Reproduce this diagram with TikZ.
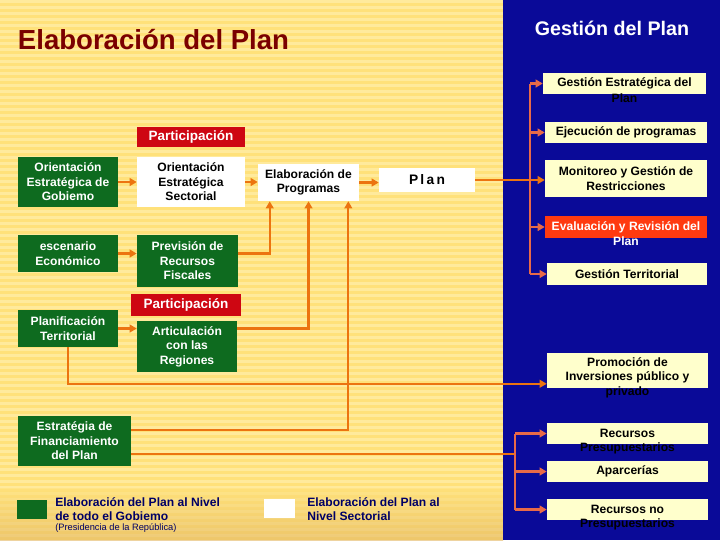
\documentclass[tikz,border=0pt]{standalone}
\usepackage{fontspec}
\setmainfont{Liberation Sans}
\usetikzlibrary{positioning,arrows.meta,calc}
\definecolor{BgYellow}{HTML}{FFE17A}
\definecolor{BgStripe}{HTML}{FFEA9C}
\definecolor{BgBlue}{HTML}{0A0A98}
\definecolor{TitleRed}{HTML}{7A0000}
\definecolor{PlanGreen}{HTML}{0E6B1F}
\definecolor{PartRed}{HTML}{CE0612}
\definecolor{EvalRed}{HTML}{FF3A10}
\definecolor{PaleYellow}{HTML}{FFFFCC}
\definecolor{LinkOrange}{HTML}{EC7410}
\definecolor{LinkSalmon}{HTML}{E86A48}
\definecolor{LegNavy}{HTML}{000066}
\newcommand\boxtxt{\fontsize{8.6}{10.3}\selectfont\bfseries}

\begin{document}
\begin{tikzpicture}[x=0.025cm,y=-0.025cm,
  gbox/.style={fill=PlanGreen, text=white, font=\boxtxt, align=center, inner sep=0pt},
  wbox/.style={fill=white, text=black, font=\boxtxt, align=center, inner sep=0pt},
  pbox/.style={fill=PartRed, text=white, font=\fontsize{9.6}{11}\selectfont\bfseries, inner sep=0pt},
  rbox/.style={fill=PaleYellow, text=black, font=\boxtxt, align=center, inner sep=0pt,
    minimum height=0.525cm},
  over/.style={text=black, font=\boxtxt, inner sep=0pt},
  legtxt/.style={text=LegNavy, font=\boxtxt, align=left, inner sep=0pt, anchor=north west},
  link/.style={LinkOrange, line width=1.6pt, -{Triangle[length=5pt,width=5.5pt]}},
  glink/.style={LinkSalmon, line width=1.5pt, -{Triangle[length=5pt,width=5.5pt]}},
  trunk/.style={LinkSalmon, line width=1.5pt}]
  \useasboundingbox (0,0) rectangle (720,540);

  % Background
  \fill[BgYellow] (0,0) rectangle (503,540);
  \foreach \y in {0,6,...,534} {
    \fill[BgStripe] (0,\y) rectangle (503,\y+3);
  }
  \shade[top color=BgYellow, bottom color=brown!45!BgYellow, opacity=0.6]
    (0,488) rectangle (503,540);
  \fill[BgBlue] (503,0) rectangle (720,540);

  % Titles
  \node[font=\fontsize{19.6}{22}\selectfont\bfseries, text=TitleRed, anchor=west]
    (title) at (13,40) {Elaboración del Plan};
  \node[font=\fontsize{14}{16}\selectfont\bfseries, text=white]
    (gtitle) at (612,28) {Gestión del Plan};

  % Elaboración (left side)
  \node[pbox, minimum width=2.7cm, minimum height=0.5cm] (part1) at (191,137) {Participación};
  \node[gbox, minimum width=2.5cm, minimum height=1.25cm] (oeg) at (68,182)
    {Orientación\\Estratégica de\\Gobiemo};
  \node[wbox, minimum width=2.7cm, minimum height=1.25cm] (oes) at (191,182)
    {Orientación\\Estratégica\\Sectorial};
  \node[wbox, minimum width=2.525cm, minimum height=0.925cm] (ep) at (308.5,182.5)
    {Elaboración de\\Programas};
  \node[wbox, minimum width=2.4cm, minimum height=0.6cm, font=\fontsize{9.8}{11}\selectfont\bfseries]
    (plan) at (427,180) {P\,l\,a\,n};
  \node[gbox, minimum width=2.5cm, minimum height=0.925cm] (esc) at (68,253.5)
    {escenario\\Económico};
  \node[gbox, minimum width=2.525cm, minimum height=1.3cm] (prf) at (187.5,261)
    {Previsión de\\Recursos\\Fiscales};
  \node[pbox, minimum width=2.75cm, minimum height=0.55cm] (part2) at (186,305) {Participación};
  \node[gbox, minimum width=2.5cm, minimum height=0.925cm] (pt) at (68,328.5)
    {Planificación\\Territorial};
  \node[gbox, minimum width=2.5cm, minimum height=1.275cm] (acr) at (187,346.5)
    {Articulación\\con las\\Regiones};
  \node[gbox, minimum width=2.825cm, minimum height=1.25cm] (efp) at (74.5,441)
    {Estratégia de\\Financiamiento\\del Plan};

  % Legend
  \node[fill=PlanGreen, minimum width=0.75cm, minimum height=0.475cm, inner sep=0pt]
    (lg1) at (32,509.5) {};
  \node[legtxt] (lg1t) at (55,497) {Elaboración del Plan al Nivel\\de todo el Gobiemo};
  \node[anchor=north west, inner sep=0pt, text=LegNavy, font=\fontsize{6.6}{7}\selectfont]
    (lg1s) at ([yshift=-1.5pt]lg1t.south west) {(Presidencia de la República)};
  \node[fill=white, minimum width=0.775cm, minimum height=0.475cm, inner sep=0pt]
    (lg2) at (279.5,508.5) {};
  \node[legtxt] (lg2t) at (307,497) {Elaboración del Plan al\\Nivel Sectorial};

  % Gestión (right side)
  \node[rbox, minimum width=4.075cm] (ge) at (624.5,83.5) {Gestión Estratégica del};
  \node[over] at ([yshift=-10.3pt]ge.center) {Plan};
  \node[rbox, minimum width=4.05cm] (ejp) at (626,132.5) {Ejecución de programas};
  \node[rbox, minimum width=4.05cm, minimum height=0.925cm] (mgr) at (626,178.5)
    {Monitoreo y Gestión de\\Restricciones};
  \node[rbox, fill=EvalRed, text=white, minimum width=4.05cm, minimum height=0.55cm]
    (erp) at (626,227) {Evaluación y Revisión del};
  \node[over, text=white] at ([yshift=-10.3pt]erp.center) {Plan};
  \node[rbox, minimum width=4cm, minimum height=0.55cm] (gt) at (627,274) {Gestión Territorial};
  \node[rbox, minimum width=4.025cm, minimum height=0.875cm] (pip) at (627.5,370.5)
    {Promoción de\\Inversiones público y};
  \node[over] at ([yshift=-15.45pt]pip.center) {privado};
  \node[rbox, minimum width=4.025cm] (rp) at (627.5,433.5) {Recursos};
  \node[over] at ([yshift=-10.3pt]rp.center) {Presupuestarios};
  \node[rbox, minimum width=4.025cm] (apa) at (627.5,471.5) {Aparcerías};
  \node[rbox, minimum width=4.025cm] (rnp) at (627.5,509.5) {Recursos no};
  \node[over] at ([yshift=-10.3pt]rnp.center) {Presupuestarios};

  % Connectors, left side
  \draw[link] (oeg) -- (oes);
  \draw[link] (oes.east) -- (oes.east -| ep.west);
  \draw[link] (ep.east) -- (ep.east -| plan.west);
  \draw[link] (esc.east) -- (esc.east -| prf.west);
  \draw[link] (prf.east |- esc.east) -| ($(ep.south west)+(12,0)$);
  \draw[link] (pt.east) -- (pt.east -| acr.west);
  \draw[link] (acr.east |- pt.east) -| (ep.south);
  \draw[link] (pt.south) |- ($(pip.south west)+(0,-4.5)$);
  \draw[link] ($(efp.east)+(0,-11)$) -| ($(ep.south east)+(-11,0)$);
  \coordinate (fin) at ($(efp.east)+(0,13)$);
  \coordinate (tr) at (530,0);
  \coordinate (tr2) at (515,0);
  \draw[LinkOrange, line width=1.6pt] (fin) -- (fin -| tr2);

  % Connectors, right side
  \draw[link] (plan.east) -- (plan.east -| mgr.west);
  \draw[trunk] (ge.west -| tr) -- (gt.west -| tr);
  \foreach \n in {ge,ejp,erp,gt} {
    \draw[glink] (\n.west -| tr) -- (\n.west);
  }
  \draw[trunk] (rp.west -| tr2) -- (rnp.west -| tr2);
  \foreach \n in {rp,apa,rnp} {
    \draw[glink] (\n.west -| tr2) -- (\n.west);
  }
\end{tikzpicture}
\end{document}
